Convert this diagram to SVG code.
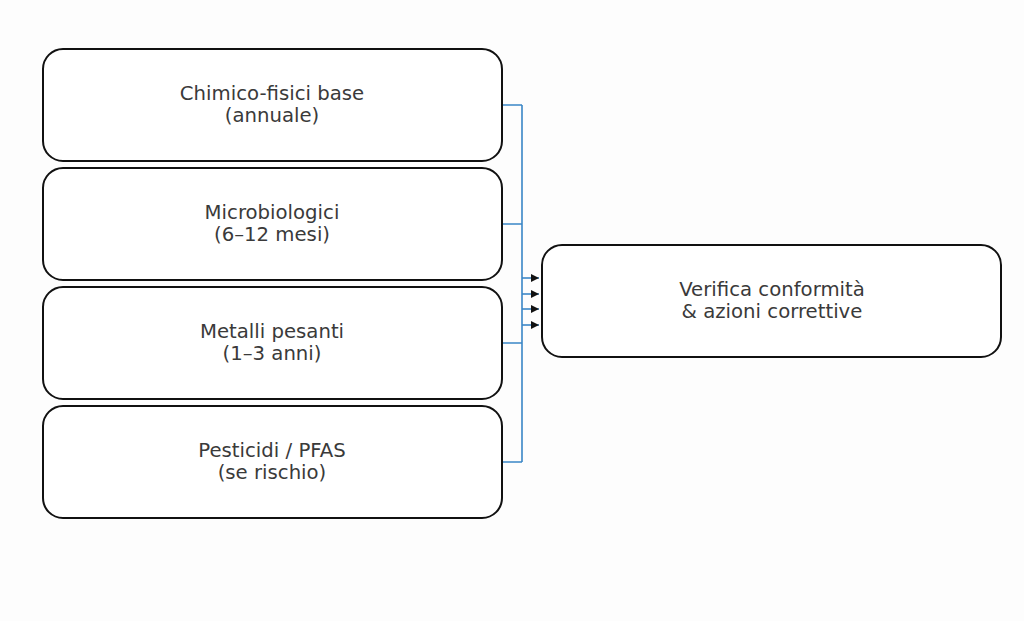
<svg xmlns="http://www.w3.org/2000/svg" width="1024" height="621" viewBox="0 0 1024 621">
<defs>
<style>
.box{fill:#fff;stroke:#111;stroke-width:2}
.t{font-family:"DejaVu Sans",sans-serif;font-size:19.7px;fill:#3a3a3a;text-anchor:middle}
.c{fill:none;stroke:#3a86c6;stroke-width:1.6}
</style>
<marker id="ah" viewBox="0 0 10 10" refX="10" refY="5" markerWidth="8" markerHeight="8" markerUnits="userSpaceOnUse" orient="auto"><path d="M0,0L10,5L0,10z" fill="#111"/></marker>
</defs>
<rect width="1024" height="621" fill="#fdfdfd"/>
<g id="connectors">
<path class="c" d="M502,105H522M502,224H522M502,343H522M502,462H522M522,105V462"/>
<path class="c" marker-end="url(#ah)" d="M522,278H539"/>
<path class="c" marker-end="url(#ah)" d="M522,294H539"/>
<path class="c" marker-end="url(#ah)" d="M522,309H539"/>
<path class="c" marker-end="url(#ah)" d="M522,325H539"/>
</g>
<g id="n1"><rect class="box" x="43" y="49" width="459" height="112" rx="20"/><text class="t" x="272" y="100">Chimico-fisici base</text><text class="t" x="272" y="122">(annuale)</text></g>
<g id="n2"><rect class="box" x="43" y="168" width="459" height="112" rx="20"/><text class="t" x="272" y="219">Microbiologici</text><text class="t" x="272" y="241">(6–12 mesi)</text></g>
<g id="n3"><rect class="box" x="43" y="287" width="459" height="112" rx="20"/><text class="t" x="272" y="338">Metalli pesanti</text><text class="t" x="272" y="360">(1–3 anni)</text></g>
<g id="n4"><rect class="box" x="43" y="406" width="459" height="112" rx="20"/><text class="t" x="272" y="457">Pesticidi / PFAS</text><text class="t" x="272" y="479">(se rischio)</text></g>
<g id="n5"><rect class="box" x="542" y="245" width="459" height="112" rx="20"/><text class="t" x="772" y="296">Verifica conformità</text><text class="t" x="772" y="318">&amp; azioni correttive</text></g>
</svg>
